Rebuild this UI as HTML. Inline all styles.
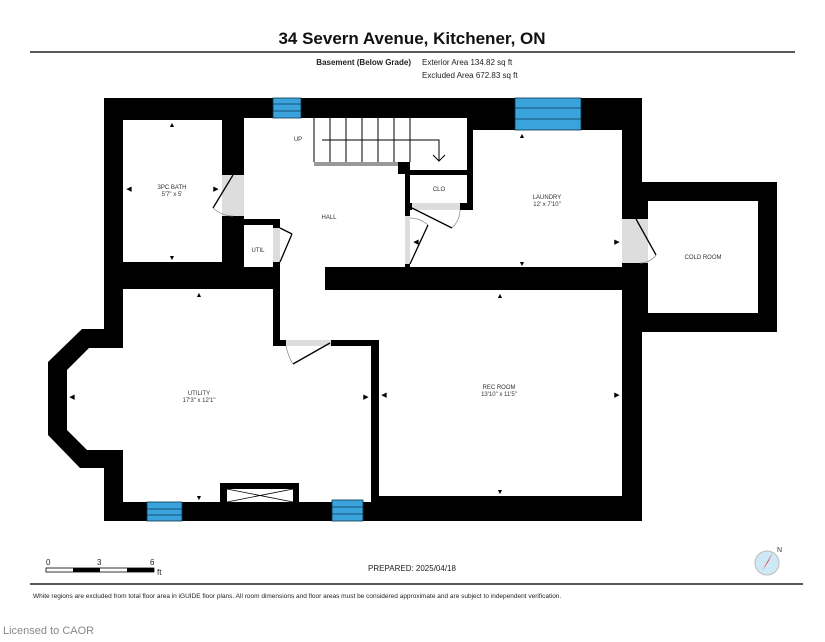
<!DOCTYPE html>
<html><head><meta charset="utf-8"><style>
body{margin:0;background:#fff;width:825px;height:637px;overflow:hidden;font-family:"Liberation Sans",sans-serif}
</style></head><body>
<svg width="825" height="637" viewBox="0 0 825 637" xmlns="http://www.w3.org/2000/svg" font-family="Liberation Sans, sans-serif">
<rect width="825" height="637" fill="#fff"/>
<text x="412" y="44" text-anchor="middle" font-size="17" font-weight="bold" fill="#111">34 Severn Avenue, Kitchener, ON</text>
<line x1="30" y1="52" x2="795" y2="52" stroke="#222" stroke-width="1.5"/>
<text x="411" y="65" text-anchor="end" font-size="8" font-weight="bold" fill="#222">Basement (Below Grade)</text>
<text x="422" y="65" font-size="8" fill="#222">Exterior Area 134.82 sq ft</text>
<text x="422" y="78" font-size="8" fill="#222">Excluded Area 672.83 sq ft</text>

<rect x="104" y="98" width="538" height="423" fill="#000"/>
<rect x="642" y="182" width="135" height="150" fill="#000"/>
<polygon points="104,329 82,329 48,362 48,435 80,468 104,468" fill="#000"/>

<rect x="123" y="120" width="99" height="142" fill="#fff"/>
<rect x="244" y="118" width="223" height="52" fill="#fff"/>
<rect x="244" y="118" width="161" height="149" fill="#fff"/>
<rect x="280" y="262" width="45" height="78" fill="#fff"/>
<rect x="280" y="290" width="99" height="50" fill="#fff"/>
<rect x="410" y="175" width="57" height="28" fill="#fff"/>
<rect x="473" y="130" width="149" height="137" fill="#fff"/>
<rect x="410" y="203" width="212" height="64" fill="#fff"/>
<rect x="123" y="289" width="150" height="213" fill="#fff"/>
<rect x="123" y="346" width="248" height="156" fill="#fff"/>
<polygon points="123,348 89,348 67,370 67,430 87,450 123,450" fill="#fff"/>
<rect x="379" y="290" width="243" height="206" fill="#fff"/>
<rect x="648" y="201" width="110" height="112" fill="#fff"/>

<rect x="244" y="219" width="36" height="6" fill="#000"/>
<rect x="273" y="219" width="7" height="126" fill="#000"/>
<rect x="244" y="273" width="36" height="16" fill="#000"/>
<rect x="273" y="340" width="106" height="6" fill="#000"/>
<rect x="371" y="340" width="8" height="162" fill="#000"/>
<rect x="405" y="170" width="68" height="5" fill="#000"/>
<rect x="467" y="118" width="6" height="92" fill="#000"/>
<rect x="460" y="203" width="13" height="7" fill="#000"/>
<rect x="405" y="162" width="5" height="105" fill="#000"/>
<rect x="398" y="162" width="12" height="12" fill="#000"/>
<rect x="405" y="203" width="7" height="7" fill="#000"/>

<g fill="#ddd">
<rect x="222" y="175" width="22" height="41"/>
<rect x="622" y="219" width="26" height="44"/>
<rect x="273" y="228" width="7" height="34"/>
<rect x="405" y="216" width="5" height="48"/>
<rect x="412" y="203" width="48" height="7"/>
<rect x="286" y="340" width="45" height="6"/>
</g>
<g stroke="#000" stroke-width="1.3" fill="none">
<line x1="233" y1="175" x2="213" y2="208"/>
<line x1="636" y1="219" x2="656" y2="255"/>
<line x1="280" y1="228" x2="292" y2="234"/><line x1="280" y1="262" x2="292" y2="234"/>
<line x1="410" y1="264" x2="428" y2="225"/>
<line x1="412" y1="208" x2="452" y2="228"/>
<line x1="330" y1="343" x2="293" y2="364"/>
</g>
<g stroke="#888" stroke-width="0.7" fill="none">
<path d="M213,208 Q222,216 233,216"/>
<path d="M656,255 Q650,263 640,263"/>
<path d="M452,228 Q460,220 460,210"/>
<path d="M428,225 Q420,218 410,218"/>
<path d="M293,364 Q288,356 286,346"/>
</g>

<g stroke="#000" stroke-width="1">
<line x1="314" y1="118" x2="314" y2="162"/><line x1="330" y1="118" x2="330" y2="162"/>
<line x1="346" y1="118" x2="346" y2="162"/><line x1="362" y1="118" x2="362" y2="162"/>
<line x1="378" y1="118" x2="378" y2="162"/><line x1="394" y1="118" x2="394" y2="162"/>
<line x1="410" y1="118" x2="410" y2="162"/>
<polyline points="322,140 439,140 439,161" fill="none"/>
<polyline points="433,155 439,161 445,155" fill="none"/>
</g>
<rect x="314" y="162" width="84" height="4" fill="#999"/>

<g fill="#3aa3dc" stroke="#0b3550" stroke-width="0.8">
<rect x="273" y="98" width="28" height="20"/><line x1="273" y1="104" x2="301" y2="104"/><line x1="273" y1="111" x2="301" y2="111"/>
<rect x="515" y="98" width="66" height="32"/><line x1="515" y1="108" x2="581" y2="108"/><line x1="515" y1="119" x2="581" y2="119"/>
<rect x="147" y="502" width="35" height="19"/><line x1="147" y1="509" x2="182" y2="509"/><line x1="147" y1="515" x2="182" y2="515"/>
<rect x="332" y="500" width="31" height="21"/><line x1="332" y1="507" x2="363" y2="507"/><line x1="332" y1="514" x2="363" y2="514"/>
</g>
<rect x="220" y="483" width="79" height="19" fill="#000"/>
<rect x="227" y="489" width="66" height="13" fill="#fff"/>
<g stroke="#000" stroke-width="0.8"><line x1="227" y1="489" x2="293" y2="502"/><line x1="227" y1="502" x2="293" y2="489"/></g>

<g font-size="6" fill="#333" text-anchor="middle">
<text x="172" y="189">3PC BATH</text><text x="172" y="196">5'7" x 5'</text>
<text x="298" y="141">UP</text>
<text x="329" y="219">HALL</text>
<text x="258" y="252">UTIL</text>
<text x="439" y="191">CLO</text>
<text x="547" y="199">LAUNDRY</text><text x="547" y="206">12' x 7'10"</text>
<text x="703" y="259">COLD ROOM</text>
<text x="199" y="395">UTILITY</text><text x="199" y="402">17'3" x 12'1"</text>
<text x="499" y="389">REC ROOM</text><text x="499" y="396">13'10" x 11'5"</text>
</g>
<g font-size="7" fill="#000" text-anchor="middle">
<text x="172" y="127">▲</text><text x="172" y="260">▼</text>
<text x="129" y="191">◀</text><text x="216" y="191">▶</text>
<text x="522" y="138">▲</text><text x="522" y="266">▼</text>
<text x="416" y="244">◀</text><text x="617" y="244">▶</text>
<text x="199" y="297">▲</text><text x="199" y="500">▼</text>
<text x="72" y="399">◀</text><text x="366" y="399">▶</text>
<text x="384" y="397">◀</text><text x="617" y="397">▶</text>
<text x="500" y="298">▲</text><text x="500" y="494">▼</text>
</g>

<g font-size="8" fill="#222">
<text x="46" y="565">0</text><text x="97" y="565">3</text><text x="150" y="565">6</text><text x="157" y="575">ft</text>
</g>
<rect x="46" y="568" width="108" height="4" fill="#fff" stroke="#000" stroke-width="0.8"/>
<rect x="73" y="568" width="27" height="4" fill="#000"/><rect x="127" y="568" width="27" height="4" fill="#000"/>
<text x="412" y="571" text-anchor="middle" font-size="8" fill="#222">PREPARED: 2025/04/18</text>
<circle cx="767" cy="563" r="12" fill="#cfe8f5" stroke="#bbb"/>
<polygon points="773,552 762,571 768,562" fill="#d00"/>
<text x="777" y="552" font-size="7" fill="#333">N</text>
<line x1="30" y1="584" x2="803" y2="584" stroke="#222" stroke-width="1.5"/>
<text x="33" y="598" font-size="6.5" fill="#222">White regions are excluded from total floor area in iGUIDE floor plans. All room dimensions and floor areas must be considered approximate and are subject to independent verification.</text>
<text x="3" y="634" font-size="11" fill="#888">Licensed to CAOR</text>
</svg>
</body></html>
